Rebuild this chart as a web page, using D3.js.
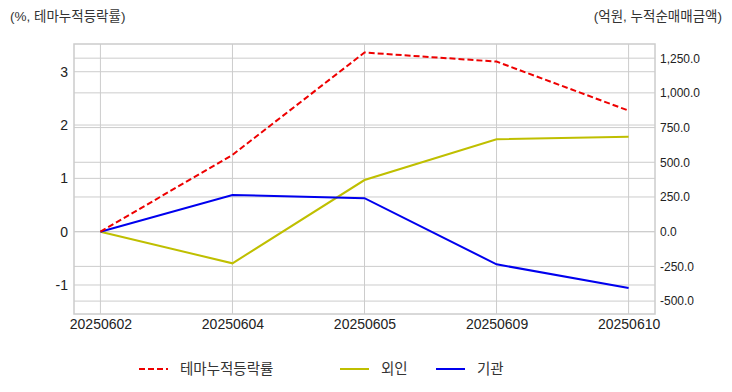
<!DOCTYPE html>
<html><head><meta charset="utf-8">
<script src="https://cdn.jsdelivr.net/npm/d3@7"></script>
<style>
body{margin:0;background:#fff;}
text{font-family:"Liberation Sans","Noto Sans CJK KR",sans-serif;}
</style></head>
<body><svg id="c" width="732" height="392"></svg>
<script>
const categories = ["20250602","20250604","20250605","20250609","20250610"];
const themeRate = [0, 1.44, 3.36, 3.19, 2.27];
const foreign = [0, -228, 372, 666, 684];
const institution = [0, 264, 241, -235, -406];
const leftTicks = [-1, 0, 1, 2, 3];
const rightTicks = [-500, -250, 0, 250, 500, 750, 1000, 1250];
const seriesNames = ["테마누적등락률", "외인", "기관"];
const leftTitle = "(%, 테마누적등락률)";
const rightTitle = "(억원, 누적순매매금액)";

const svg = d3.select("#c");
const L = 74, R = 655, T = 44, B = 314;
const x = d3.scalePoint().domain(categories).range([L, R]).padding(0.2);
const yL = d3.scaleLinear().domain([-1.544, 3.52]).range([B, T]);
const yR = d3.scaleLinear().domain([-593, 1352]).range([B, T]);
const grid = "#cccccc";
const hy = f => d => f(d).replace("\u2212", "-");

// grid lines
svg.append("g").selectAll("line").data(categories).join("line")
  .attr("x1", d => x(d)).attr("x2", d => x(d)).attr("y1", T).attr("y2", B)
  .attr("stroke", grid).attr("stroke-width", 1);
svg.append("g").selectAll("line").data(leftTicks).join("line")
  .attr("x1", L).attr("x2", R).attr("y1", d => yL(d)).attr("y2", d => yL(d))
  .attr("stroke", grid).attr("stroke-width", 1);
svg.append("g").selectAll("line").data(rightTicks).join("line")
  .attr("x1", L).attr("x2", R).attr("y1", d => yR(d)).attr("y2", d => yR(d))
  .attr("stroke", grid).attr("stroke-width", 1);

// frame
svg.append("rect").attr("x", L).attr("y", T).attr("width", R - L).attr("height", B - T)
  .attr("fill", "none").attr("stroke", grid).attr("stroke-width", 1.5);

// axes
const axL = svg.append("g").attr("transform", `translate(${L},0)`)
  .call(d3.axisLeft(yL).tickValues(leftTicks).tickSize(0).tickPadding(6).tickFormat(hy(d3.format("d"))));
const axR = svg.append("g").attr("transform", `translate(${R},0)`)
  .call(d3.axisRight(yR).tickValues(rightTicks).tickSize(0).tickPadding(5).tickFormat(hy(d3.format(",.1f"))));
const axB = svg.append("g").attr("transform", `translate(0,${B})`)
  .call(d3.axisBottom(x).tickSize(0).tickPadding(5));
[axL, axR, axB].forEach(a => {
  a.select(".domain").remove();
  a.selectAll("text").attr("font-size", 14).attr("fill", "#222")
   .attr("font-family", "'Liberation Sans','Noto Sans CJK KR',sans-serif");
});
axR.selectAll("text").attr("font-family", "'DejaVu Sans',sans-serif").attr("font-size", 12);

// lines
const lineL = d3.line().x((d, i) => x(categories[i])).y(d => yL(d));
const lineR = d3.line().x((d, i) => x(categories[i])).y(d => yR(d));
svg.append("path").datum(foreign).attr("d", lineR).attr("fill", "none")
  .attr("stroke", "#bfbf00").attr("stroke-width", 2);
svg.append("path").datum(institution).attr("d", lineR).attr("fill", "none")
  .attr("stroke", "#0000ee").attr("stroke-width", 2);
svg.append("path").datum(themeRate).attr("d", lineL).attr("fill", "none")
  .attr("stroke", "#ee0000").attr("stroke-width", 2).attr("stroke-dasharray", "6,3");

// titles
svg.append("text").attr("x", 10).attr("y", 21).text(leftTitle)
  .attr("font-size", 13.5).attr("fill", "#333").attr("font-family", "'Noto Sans CJK KR',sans-serif");
svg.append("text").attr("x", 722).attr("y", 21).attr("text-anchor", "end").text(rightTitle)
  .attr("font-size", 13.5).attr("fill", "#333").attr("font-family", "'Noto Sans CJK KR',sans-serif");

// legend
const legend = [
  {name: seriesNames[0], color: "#ee0000", dash: "6,3", x: 139},
  {name: seriesNames[1], color: "#bfbf00", dash: null, x: 340},
  {name: seriesNames[2], color: "#0000ee", dash: null, x: 436}
];
const lg = svg.append("g").selectAll("g").data(legend).join("g")
  .attr("transform", d => `translate(${d.x},369)`);
lg.append("line").attr("x1", 0).attr("x2", 29).attr("y1", 0).attr("y2", 0)
  .attr("stroke", d => d.color).attr("stroke-width", 2)
  .attr("stroke-dasharray", d => d.dash);
lg.append("text").attr("x", 41).attr("y", 5).text(d => d.name)
  .attr("font-size", 14.5).attr("fill", "#333").attr("font-family", "'Noto Sans CJK KR',sans-serif");
</script></body></html>
